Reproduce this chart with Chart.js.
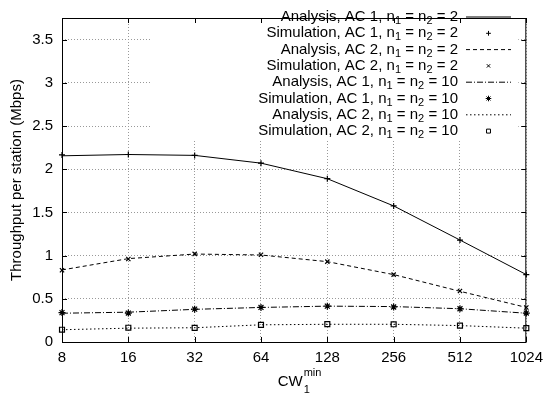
<!DOCTYPE html>
<html lang="en">
<head>
  <meta charset="UTF-8">
  <title>Throughput per station</title>
  <script src="https://cdn.jsdelivr.net/npm/chart.js"></script>
  <style>
    body { margin: 0; background: #fff; }
    #wrap { width: 550px; height: 394px; }
  </style>
</head>
<body>
  <div id="wrap"><canvas id="tputChart"></canvas></div>
  <script>
    // CW_1^min values (log2 spaced categories)
    const cwLabels = ['8', '16', '32', '64', '128', '256', '512', '1024'];

    // throughput per station (Mbps)
    const anaAc1N2 = [2.155, 2.17, 2.16, 2.07, 1.89, 1.575, 1.18, 0.78];
    const simAc1N2 = [2.165, 2.17, 2.16, 2.07, 1.89, 1.575, 1.18, 0.78];
    const anaAc2N2 = [0.834, 0.965, 1.018, 1.007, 0.93, 0.78, 0.587, 0.40];
    const simAc2N2 = [0.83, 0.96, 1.02, 1.01, 0.93, 0.78, 0.59, 0.40];
    const anaAc1N10 = [0.333, 0.345, 0.378, 0.40, 0.415, 0.41, 0.385, 0.333];
    const simAc1N10 = [0.34, 0.335, 0.38, 0.40, 0.415, 0.405, 0.385, 0.335];
    const anaAc2N10 = [0.142, 0.16, 0.165, 0.199, 0.205, 0.205, 0.19, 0.16];
    const simAc2N10 = [0.142, 0.165, 0.163, 0.199, 0.207, 0.205, 0.19, 0.16];

    // legend pieces: kind, AC, n
    const seriesKind = ['Analysis', 'Simulation', 'Analysis', 'Simulation', 'Analysis', 'Simulation', 'Analysis', 'Simulation'];
    const seriesAc = [1, 1, 2, 2, 1, 1, 2, 2];
    const seriesN = [2, 2, 2, 2, 10, 10, 10, 10];

    const yTickMax = 3.5;
    const yAxisMax = 3.75;
    const FONT = '"Liberation Sans", Arial, Helvetica, sans-serif';
    const BIG = 15, SMALL = 11;

    function lineSet(i, data, dash) {
      return {
        label: seriesKind[i] + ', AC ' + seriesAc[i] + ', n1 = n2 = ' + seriesN[i],
        data: data,
        borderColor: '#000',
        borderWidth: 1,
        borderDash: dash,
        pointRadius: 0,
        tension: 0,
        fill: false
      };
    }
    function pointSet(i, data, style, r) {
      return {
        label: seriesKind[i] + ', AC ' + seriesAc[i] + ', n1 = n2 = ' + seriesN[i],
        data: data,
        showLine: false,
        borderColor: '#000',
        backgroundColor: 'rgba(0,0,0,0)',
        borderWidth: 1.2,
        pointStyle: style,
        pointRadius: r
      };
    }

    const datasets = [
      lineSet(0, anaAc1N2, []),
      pointSet(1, simAc1N2, 'cross', 3),
      lineSet(2, anaAc2N2, [4, 3]),
      pointSet(3, simAc2N2, 'crossRot', 3),
      lineSet(4, anaAc1N10, [6, 2, 1, 2]),
      pointSet(5, simAc1N10, 'star', 3.5),
      lineSet(6, anaAc2N10, [1.5, 2.5]),
      pointSet(7, simAc2N10, 'rect', 3.5)
    ];

    // gnuplot-like legend with subscripts
    const gnuLegend = {
      id: 'gnuLegend',
      afterDatasetsDraw(chart) {
        const ctx = chart.ctx;
        const area = chart.chartArea;
        const textRight = 458;
        const sampleL = 466, sampleR = 511;
        const top = 17, step = 16.3;
        ctx.save();
        ctx.fillStyle = '#fff';
        ctx.fillRect(150, area.top + 1, area.right - 8 - 150, 140 - area.top);
        chart.data.datasets.forEach(function (ds, i) {
          const y = top + i * step;
          const pieces = [
            [seriesKind[i] + ', AC ' + seriesAc[i] + ', n', 0],
            ['1', 1],
            [' = n', 0],
            ['2', 1],
            [' = ' + seriesN[i], 0]
          ];
          let total = 0;
          pieces.forEach(function (p) {
            ctx.font = (p[1] ? SMALL : BIG) + 'px ' + FONT;
            p.push(ctx.measureText(p[0]).width);
            total += p[2];
          });
          let x = textRight - total;
          ctx.fillStyle = '#000';
          ctx.textBaseline = 'middle';
          ctx.textAlign = 'left';
          pieces.forEach(function (p) {
            ctx.font = (p[1] ? SMALL : BIG) + 'px ' + FONT;
            ctx.fillText(p[0], x, y + (p[1] ? 4 : 0));
            x += p[2];
          });
          ctx.strokeStyle = '#000';
          ctx.lineWidth = 1;
          if (ds.showLine === false) {
            ctx.fillStyle = 'rgba(0,0,0,0)';
            Chart.helpers.drawPoint(ctx, {
              pointStyle: ds.pointStyle,
              radius: ds.pointRadius * 0.8,
              rotation: 0,
              borderWidth: 1
            }, (sampleL + sampleR) / 2, y);
          } else {
            ctx.setLineDash(ds.borderDash);
            ctx.beginPath();
            ctx.moveTo(sampleL, y);
            ctx.lineTo(sampleR, y);
            ctx.stroke();
            ctx.setLineDash([]);
          }
        });
        ctx.restore();
      }
    };

    // frame, mirror ticks and axis titles
    const gnuFrame = {
      id: 'gnuFrame',
      afterDraw(chart) {
        const ctx = chart.ctx;
        const a = chart.chartArea;
        const xs = chart.scales.x, ys = chart.scales.y;
        ctx.save();
        ctx.strokeStyle = '#000';
        ctx.lineWidth = 1;
        ctx.strokeRect(a.left + 0.5, a.top + 0.5, a.right - a.left - 1, a.bottom - a.top);
        ctx.beginPath();
        xs.ticks.forEach(function (t, i) {
          const px = Math.round(xs.getPixelForTick(i)) + 0.5;
          ctx.moveTo(px, a.bottom); ctx.lineTo(px, a.bottom - 5);
          ctx.moveTo(px, a.top); ctx.lineTo(px, a.top + 5);
        });
        ys.ticks.forEach(function (t) {
          const py = Math.round(ys.getPixelForValue(t.value)) + 0.5;
          ctx.moveTo(a.left, py); ctx.lineTo(a.left + 5, py);
          ctx.moveTo(a.right, py); ctx.lineTo(a.right - 5, py);
        });
        ctx.stroke();

        ctx.fillStyle = '#000';
        ctx.textBaseline = 'middle';
        ctx.textAlign = 'center';
        ctx.font = BIG + 'px ' + FONT;
        ctx.translate(17, 180);
        ctx.rotate(-Math.PI / 2);
        ctx.fillText('Throughput per station (Mbps)', 0, 0);
        ctx.setTransform(1, 0, 0, 1, 0, 0);

        const cx = (a.left + a.right) / 2;
        ctx.textAlign = 'left';
        ctx.font = BIG + 'px ' + FONT;
        const w = ctx.measureText('CW').width;
        ctx.fillText('CW', cx - w / 2 - 4, 382);
        ctx.font = SMALL + 'px ' + FONT;
        ctx.fillText('min', cx + w / 2 - 3, 373);
        ctx.fillText('1', cx + w / 2 - 3, 390);
        ctx.restore();
      }
    };

    const ctx = document.getElementById('tputChart').getContext('2d');
    new Chart(ctx, {
      type: 'line',
      data: { labels: cwLabels, datasets: datasets },
      options: {
        responsive: true,
        maintainAspectRatio: false,
        animation: false,
        layout: { padding: { left: 0, right: 20, top: 7, bottom: 0 } },
        plugins: {
          legend: { display: false },
          tooltip: { enabled: false }
        },
        scales: {
          x: {
            offset: false,
            grid: { color: '#999', drawTicks: false },
            border: { display: false, dash: [1, 2] },
            ticks: { color: '#000', font: { family: FONT, size: BIG }, padding: 7, maxRotation: 0 },
            afterFit: function (scale) { scale.height = 52; }
          },
          y: {
            min: 0,
            max: yAxisMax,
            grid: { color: '#999', drawTicks: false },
            border: { display: false, dash: [1, 2] },
            ticks: {
              stepSize: 0.5,
              includeBounds: false,
              color: '#000',
              font: { family: FONT, size: BIG },
              padding: 9,
              callback: function (v) { return v <= yTickMax ? v : ''; }
            },
            afterFit: function (scale) { scale.width = 62; }
          }
        }
      },
      plugins: [gnuLegend, gnuFrame]
    });
  </script>
</body>
</html>
